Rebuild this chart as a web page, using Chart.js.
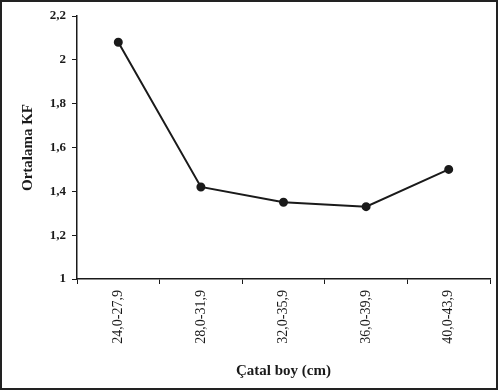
<!DOCTYPE html>
<html><head><meta charset="utf-8">
<script src="https://cdn.jsdelivr.net/npm/chart.js@4/dist/chart.umd.min.js"></script>
<style>
html,body{margin:0;padding:0;background:#fff;}
#wrap{width:498px;height:390px;box-sizing:border-box;border:2px solid #222;background:#fff;}
canvas{display:block;}
</style></head><body>
<div id="wrap"><canvas id="c" width="494" height="386"></canvas></div>
<script>
const categories = ["24,0-27,9","28,0-31,9","32,0-35,9","36,0-39,9","40,0-43,9"];
const meanKF = [2.08, 1.42, 1.35, 1.33, 1.50];
const yTicks = [1, 1.2, 1.4, 1.6, 1.8, 2, 2.2];
const xTitle = "Çatal boy (cm)";
const yTitle = "Ortalama KF";

const ink = '#1a1a1a';
const serif = "'Liberation Serif', 'DejaVu Serif', serif";

new Chart(document.getElementById('c'), {
  type: 'line',
  data: {
    labels: categories,
    datasets: [{
      data: meanKF,
      borderColor: ink,
      backgroundColor: ink,
      borderWidth: 2,
      pointRadius: 3.5,
      pointBackgroundColor: ink,
      pointBorderColor: ink,
      tension: 0
    }]
  },
  options: {
    responsive: false,
    animation: false,
    devicePixelRatio: 1,
    layout: { padding: { top: 14, right: 3, left: 0, bottom: 0 } },
    plugins: { legend: { display: false }, tooltip: { enabled: false } },
    scales: {
      x: {
        type: 'category',
        offset: true,
        grid: { offset: true, drawOnChartArea: false, drawTicks: true, tickLength: 5, color: ink, lineWidth: 1 },
        border: { display: true, color: ink, width: 1.5 },
        ticks: {
          color: ink, minRotation: 90, maxRotation: 90, padding: 6,
          font: { family: serif, size: 14 }
        },
        title: {
          display: true, text: xTitle, color: ink, padding: { top: 8, bottom: 8 },
          font: { family: serif, size: 15, weight: 'bold' }
        },
        afterFit: s => { s.height = 109; }
      },
      y: {
        min: 1, max: 2.2,
        afterBuildTicks: s => { s.ticks = yTicks.map(v => ({ value: v })); },
        grid: { drawOnChartArea: false, drawTicks: true, tickLength: 5, color: ink, lineWidth: 1 },
        border: { display: true, color: ink, width: 1.5 },
        ticks: {
          color: ink, padding: 6,
          font: { family: serif, size: 13, weight: 'bold' },
          callback: v => String(v).replace('.', ',')
        },
        title: {
          display: true, text: yTitle, color: ink, padding: { top: 17, bottom: 0 },
          font: { family: serif, size: 15, weight: 'bold' }
        },
        afterFit: s => { s.width = 75; }
      }
    }
  }
});
</script>
</body></html>
